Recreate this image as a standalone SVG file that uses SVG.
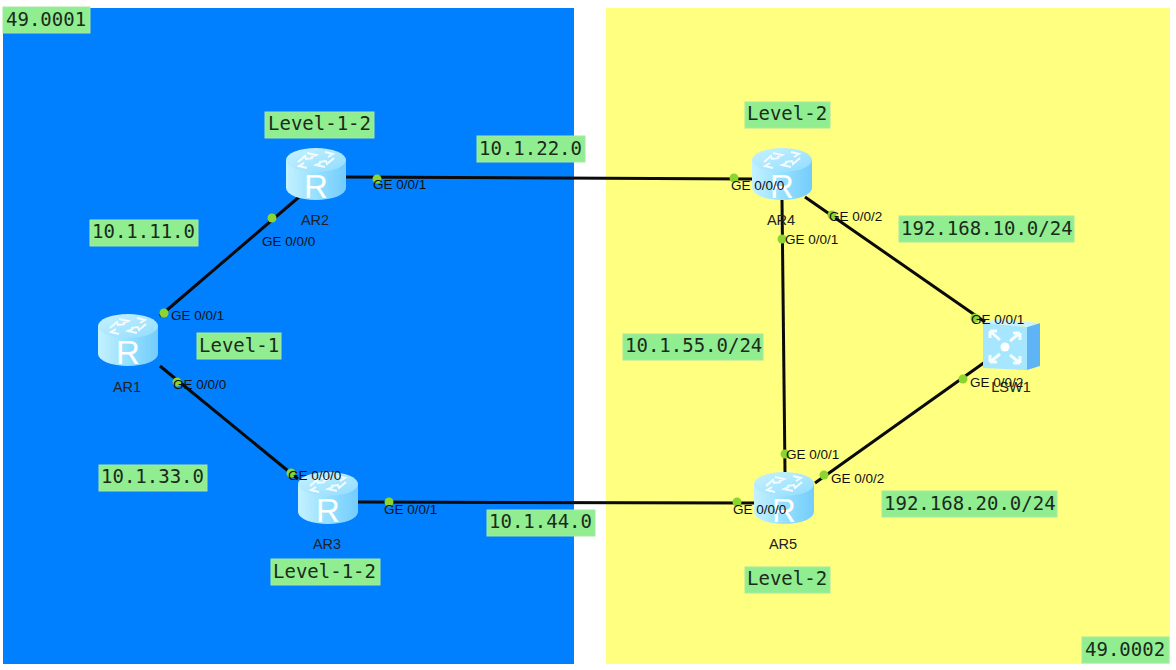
<svg xmlns="http://www.w3.org/2000/svg" xmlns:xlink="http://www.w3.org/1999/xlink" width="1176" height="670" viewBox="0 0 1176 670">
<style>
.tag{fill:#90ee90;stroke:#a5e8a5;stroke-width:1}
.tagt{font-family:"DejaVu Sans Mono","Liberation Mono",monospace;font-size:19px;fill:#1c2a1c}
.port{font-family:"Liberation Sans",Arial,sans-serif;font-size:13.5px;fill:#111}
.name{font-family:"Liberation Sans",Arial,sans-serif;font-size:14.5px;fill:#222;text-anchor:middle}
.link{stroke:#0a0a0a;stroke-width:3;fill:none}
.dot{fill:#8cd52e}
.glyph{fill:none;stroke:#fff;stroke-width:2;opacity:.85}
</style>
<defs>
<linearGradient id="body" x1="0" x2="1" y1="0" y2="0"><stop offset="0" stop-color="#c4f1ff"/><stop offset=".5" stop-color="#96e0ff"/><stop offset="1" stop-color="#74ccfb"/></linearGradient>
<linearGradient id="top" x1="0" x2="1" y1="0" y2="1"><stop offset="0" stop-color="#c8f2ff"/><stop offset="1" stop-color="#90dcff"/></linearGradient>
<symbol id="router" width="60" height="54" viewBox="0 0 60 54" overflow="visible">
<path d="M0 12V40A30 12 0 0 0 60 40V12Z" fill="url(#body)"/>
<ellipse cx="30" cy="12" rx="30" ry="12" fill="url(#top)"/>
<g class="glyph"><path d="M12 14l7-6 1 3 7-1M48 10l-7 6-1-3-7 1M21 20l-8-2 5-3M39 4l8 2-5 3M21 5l9 2-5 2M39 19l-9-2 5-2"/></g>
<text x="30" y="50" font-family="Liberation Sans,Arial,sans-serif" font-size="33" fill="#fff" text-anchor="middle">R</text>
</symbol>
</defs>
<rect width="1176" height="670" fill="#fff"/>
<g id="areas">
<rect x="3" y="8" width="571" height="656" fill="#0080ff"/>
<rect x="606" y="8" width="564" height="656" fill="#ffff80"/>
</g>
<g id="connectors">
<path class="link" d="M299 197L160 316"/>
<path class="link" d="M160 366L298 479"/>
<path class="link" d="M346 177L752 179"/>
<path class="link" d="M358 502L755 503"/>
<path class="link" d="M782 200L785 472"/>
<path class="link" d="M805 197L985 322"/>
<path class="link" d="M815 483L985 362"/>
<g class="dot">
<circle cx="272" cy="218" r="4.5"/><circle cx="164" cy="313" r="4.5"/><circle cx="177" cy="382" r="4.5"/><circle cx="291" cy="473" r="4.5"/>
<circle cx="377" cy="179" r="4.5"/><circle cx="734" cy="178" r="4.5"/><circle cx="389" cy="502" r="4.5"/><circle cx="737" cy="502" r="4.5"/>
<circle cx="782" cy="239" r="4.5"/><circle cx="785" cy="454" r="4.5"/><circle cx="832" cy="215" r="4.5"/><circle cx="824" cy="475" r="4.5"/>
<circle cx="975" cy="318" r="4.5"/><circle cx="963" cy="379" r="4.5"/>
</g>
</g>
<g id="AR1"><use xlink:href="#router" href="#router" x="98" y="314"/><text class="name" x="127" y="392">AR1</text></g>
<g id="AR2"><use xlink:href="#router" href="#router" x="286" y="148"/><text class="name" x="315" y="225">AR2</text></g>
<g id="AR3"><use xlink:href="#router" href="#router" x="298" y="472"/><text class="name" x="327" y="549">AR3</text></g>
<g id="AR4"><use xlink:href="#router" href="#router" x="752" y="148"/><text class="name" x="781" y="225">AR4</text></g>
<g id="AR5"><use xlink:href="#router" href="#router" x="754" y="472"/><text class="name" x="783" y="549">AR5</text></g>
<g id="LSW1">
<polygon points="1027,327 1040,323 1040,366 1027,370" fill="#5fb4f5"/>
<polygon points="983,323 1027,327 1040,323 997,319" fill="#cdf2ff"/>
<polygon points="983,323 1027,327 1027,370 983,368" fill="#a6e6ff"/>
<g stroke="#fff" stroke-width="3" fill="none" opacity=".9">
<path d="M990 331l10 9M990 331h7M990 331v7M1020 333l-10 8M1020 333h-7M1020 333v7M990 362l10-8M990 362h7M990 362v-7M1020 363l-10-8M1020 363h-7M1020 363v-7"/>
</g>
<circle cx="1005" cy="347" r="4.5" fill="#fff"/>
<text class="name" x="1011" y="392">LSW1</text>
</g>
<g id="port-labels">
<text class="port" x="171" y="320">GE 0/0/1</text>
<text class="port" x="173" y="389">GE 0/0/0</text>
<text class="port" x="262" y="246">GE 0/0/0</text>
<text class="port" x="373" y="189">GE 0/0/1</text>
<text class="port" x="288" y="480">GE 0/0/0</text>
<text class="port" x="384" y="514">GE 0/0/1</text>
<text class="port" x="731" y="190">GE 0/0/0</text>
<text class="port" x="785" y="244">GE 0/0/1</text>
<text class="port" x="829" y="221">GE 0/0/2</text>
<text class="port" x="733" y="514">GE 0/0/0</text>
<text class="port" x="786" y="459">GE 0/0/1</text>
<text class="port" x="831" y="483">GE 0/0/2</text>
<text class="port" x="971" y="324">GE 0/0/1</text>
<text class="port" x="970" y="387">GE 0/0/2</text>
</g>
<g id="labels">
<rect class="tag" x="3" y="7" width="87" height="26"/><text class="tagt" x="6" y="26">49.0001</text>
<rect class="tag" x="1082" y="637" width="87" height="26"/><text class="tagt" x="1085" y="656">49.0002</text>
<rect class="tag" x="265" y="112" width="109" height="26"/><text class="tagt" x="268" y="130">Level-1-2</text>
<rect class="tag" x="745" y="102" width="85" height="26"/><text class="tagt" x="747" y="120">Level-2</text>
<rect class="tag" x="197" y="333" width="84" height="26"/><text class="tagt" x="199" y="352">Level-1</text>
<rect class="tag" x="271" y="559" width="109" height="26"/><text class="tagt" x="273" y="578">Level-1-2</text>
<rect class="tag" x="745" y="567" width="85" height="26"/><text class="tagt" x="747" y="585">Level-2</text>
<rect class="tag" x="90" y="220" width="108" height="26"/><text class="tagt" x="92" y="238">10.1.11.0</text>
<rect class="tag" x="477" y="136" width="108" height="26"/><text class="tagt" x="479" y="155">10.1.22.0</text>
<rect class="tag" x="99" y="465" width="108" height="26"/><text class="tagt" x="101" y="483">10.1.33.0</text>
<rect class="tag" x="487" y="510" width="108" height="26"/><text class="tagt" x="489" y="528">10.1.44.0</text>
<rect class="tag" x="623" y="334" width="140" height="26"/><text class="tagt" x="625" y="352">10.1.55.0/24</text>
<rect class="tag" x="899" y="216" width="175" height="26"/><text class="tagt" x="901" y="235">192.168.10.0/24</text>
<rect class="tag" x="882" y="491" width="175" height="26"/><text class="tagt" x="884" y="510">192.168.20.0/24</text>
</g>
</svg>
